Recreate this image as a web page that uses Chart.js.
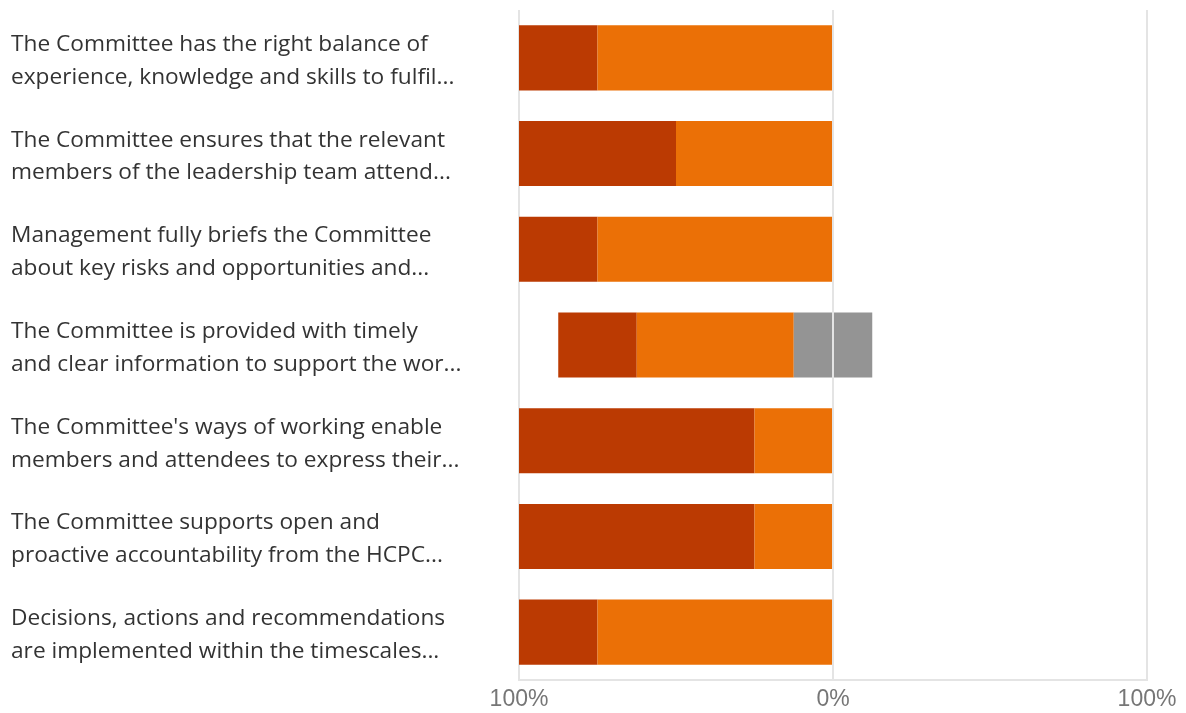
<!DOCTYPE html>
<html>
<head>
<meta charset="utf-8">
<script src="https://cdn.jsdelivr.net/npm/chart.js@4"></script>
<style>
  html, body { margin: 0; padding: 0; background: #fff; }
  #wrap { width: 1186px; height: 713px; }
</style>
</head>
<body>
<div id="wrap"><canvas id="chart"></canvas></div>
<script>
// statements, each cut to two lines like the original survey export
const questions = [
    ['The Committee has the right balance of', 'experience, knowledge and skills to fulfil...'],
    ['The Committee ensures that the relevant', 'members of the leadership team attend...'],
    ['Management fully briefs the Committee', 'about key risks and opportunities and...'],
    ['The Committee is provided with timely', 'and clear information to support the wor...'],
    ["The Committee's ways of working enable", 'members and attendees to express their...'],
    ['The Committee supports open and', 'proactive accountability from the HCPC...'],
    ['Decisions, actions and recommendations', 'are implemented within the timescales...']
];

// percentages of answers
const stronglyAgree = [25, 50, 25, 25, 75, 75, 25];
const agree = [75, 50, 75, 50, 25, 25, 75];
const neutral = [0, 0, 0, 25, 0, 0, 0];

const xTicks = [-100, 0, 100];

// agreement goes to the left of 0, neutral is split around 0
const neutralLeft = neutral.map(v => -v / 2);
const neutralRight = neutral.map(v => v / 2);

const ctx = document.getElementById('chart').getContext('2d');
const myChart = new Chart(ctx, {
    type: 'bar',
    data: {
        labels: questions,
        datasets: [
            { label: 'Neutral', data: neutralLeft, backgroundColor: '#949494' },
            { label: 'Agree', data: agree.map(v => -v), backgroundColor: '#EB7006' },
            { label: 'Strongly agree', data: stronglyAgree.map(v => -v), backgroundColor: '#BB3A02' },
            { label: 'Neutral ', data: neutralRight, backgroundColor: '#949494' }
        ]
    },
    options: {
        indexAxis: 'y',
        responsive: true,
        maintainAspectRatio: false,
        animation: false,
        layout: { padding: { left: 11, top: 10, right: 39, bottom: 0 } },
        datasets: {
            bar: { categoryPercentage: 1, barPercentage: 0.68, borderWidth: 0 }
        },
        plugins: {
            legend: { display: false },
            tooltip: { enabled: false }
        },
        scales: {
            x: {
                stacked: true,
                min: -100,
                max: 100,
                z: 1,
                afterBuildTicks: axis => {
                    axis.ticks = xTicks.map(v => ({ value: v }));
                },
                afterFit: axis => {
                    axis.paddingLeft = 0;
                    axis.paddingRight = 0;
                    axis.height = 33;
                },
                grid: { color: '#e4e4e4', lineWidth: 2, drawTicks: false },
                border: { color: '#e4e4e4', width: 2 },
                ticks: {
                    padding: 8,
                    color: '#767676',
                    font: { family: 'Liberation Sans', size: 23, lineHeight: 1 },
                    callback: v => Math.abs(v) + '%'
                }
            },
            y: {
                stacked: true,
                afterFit: axis => {
                    axis.width = 508;
                    axis.paddingTop = 0;
                    axis.paddingBottom = 0;
                },
                grid: { display: false, drawTicks: false },
                border: { display: false },
                ticks: {
                    crossAlign: 'far',
                    labelOffset: 3,
                    color: '#333333',
                    font: { family: 'Open Sans', size: 22.7, lineHeight: 1.45 }
                }
            }
        }
    }
});
</script>
</body>
</html>
